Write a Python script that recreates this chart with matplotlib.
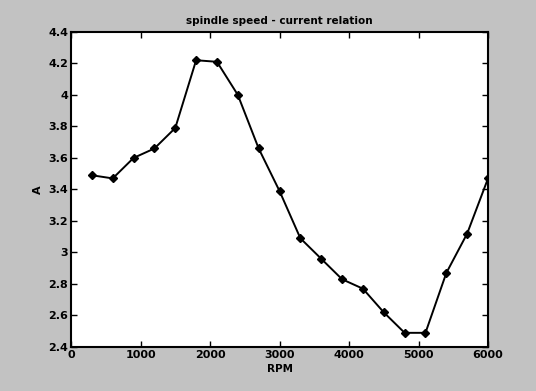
import matplotlib
matplotlib.use("Agg")
import matplotlib.pyplot as plt

# spindle speed (RPM) vs. measured current (A)
rpm = [300, 600, 900, 1200, 1500, 1800, 2100, 2400, 2700, 3000,
       3300, 3600, 3900, 4200, 4500, 4800, 5100, 5400, 5700, 6000]
current = [3.49, 3.47, 3.60, 3.66, 3.79, 4.22, 4.21, 4.00, 3.66, 3.39,
           3.09, 2.96, 2.83, 2.77, 2.62, 2.49, 2.49, 2.87, 3.12, 3.47]

x_ticks = [0, 1000, 2000, 3000, 4000, 5000, 6000]
y_ticks = [2.4, 2.6, 2.8, 3.0, 3.2, 3.4, 3.6, 3.8, 4.0, 4.2, 4.4]
y_tick_labels = ["2.4", "2.6", "2.8", "3", "3.2", "3.4", "3.6", "3.8", "4", "4.2", "4.4"]

fig = plt.figure(figsize=(5.36, 3.91), dpi=100, facecolor="#c2c2c2")
ax = fig.add_axes([0.1325, 0.1125, 0.778, 0.806])
ax.set_facecolor("white")

ax.plot(rpm, current, color="black", linewidth=1.4, marker="D",
        markersize=4.5, markerfacecolor="black", markeredgecolor="black")

ax.set_xlim(0, 6000)
ax.set_ylim(2.4, 4.4)
ax.set_xticks(x_ticks)
ax.set_xticklabels([str(v) for v in x_ticks])
ax.set_yticks(y_ticks)
ax.set_yticklabels(y_tick_labels)

ax.tick_params(direction="in", top=True, right=True, length=4, width=1,
               labelsize=8, pad=2, colors="black")
for lab in ax.get_xticklabels() + ax.get_yticklabels():
    lab.set_fontweight("bold")
for s in ax.spines.values():
    s.set_linewidth(1.5)

ax.set_title("spindle speed - current relation", fontsize=7.5,
             fontweight="bold", pad=6)
ax.set_xlabel("RPM", fontsize=7.5, fontweight="bold", labelpad=3)
ax.set_ylabel("A", fontsize=8, fontweight="bold", labelpad=4)

fig.savefig("out.png", dpi=100, facecolor=fig.get_facecolor())
